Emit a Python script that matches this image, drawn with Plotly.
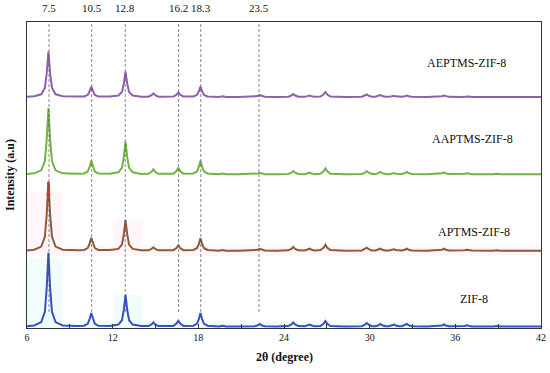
import plotly.graph_objects as go

# Shared 2-theta grid (degrees)
two_theta = [
    6.0, 6.5, 7.0, 7.25, 7.38, 7.5, 7.62, 7.75, 8.0, 8.5, 9.5,
    10.0, 10.25, 10.38, 10.5, 10.62, 10.75, 11.0, 11.8,
    12.4, 12.65, 12.78, 12.9, 13.02, 13.15, 13.4, 14.0,
    14.5, 14.72, 14.85, 14.98, 15.2,
    16.25, 16.47, 16.6, 16.73, 16.95,
    17.65, 17.9, 18.03, 18.15, 18.27, 18.4, 18.65, 19.1,
    19.45, 19.7, 19.95,
    20.8,
    21.95, 22.17, 22.3, 22.43, 22.65,
    23.5,
    24.3, 24.52, 24.65, 24.78, 25.0,
    25.45, 25.67, 25.8, 25.93, 26.15,
    26.55, 26.77, 26.9, 27.03, 27.25,
    28.3,
    29.45, 29.67, 29.8, 29.93, 30.15,
    30.4, 30.62, 30.75, 30.88, 31.1,
    31.35, 31.57, 31.7, 31.83, 32.05,
    32.25, 32.47, 32.6, 32.73, 32.95,
    34.0,
    34.85, 35.07, 35.2, 35.33, 35.55,
    36.45, 36.67, 36.8, 36.93, 37.15,
    38.65, 38.9, 39.15,
    40.5, 42.0,
]

zif8 = [
    0.3, 1.1, 4.4, 14.7, 38.3, 73.7, 38.3, 14.7, 4.4, 1.1, 0.5,
    0.8, 2.7, 7.0, 13.4, 7.0, 2.7, 0.8, 0.6,
    1.9, 6.3, 16.5, 31.7, 16.5, 6.3, 1.9, 0.4,
    0.4, 2.0, 4.0, 2.0, 0.4,
    0.6, 2.9, 5.7, 2.9, 0.6,
    0.8, 2.7, 7.0, 13.4, 7.0, 2.7, 0.8, 0.2,
    0, 0.8, 0,
    0,
    0.25, 1.25, 2.5, 1.25, 0.25,
    0,
    0.4, 2.0, 4.0, 2.0, 0.4,
    0.2, 1.0, 2.0, 1.0, 0.2,
    0.55, 2.75, 5.5, 2.75, 0.55,
    0,
    0.35, 1.75, 3.5, 1.75, 0.35,
    0.25, 1.25, 2.5, 1.25, 0.25,
    0.2, 1.0, 2.0, 1.0, 0.2,
    0.25, 1.25, 2.5, 1.25, 0.25,
    0,
    0.2, 1.0, 2.0, 1.0, 0.2,
    0.12, 0.6, 1.2, 0.6, 0.12,
    0, 0.5, 0,
    0, 0,
]

aptms_zif8 = [
    0.3, 1.0, 4.1, 13.8, 35.9, 69.0, 35.9, 13.8, 4.1, 1.0, 0.5,
    0.8, 2.6, 6.8, 13.0, 6.8, 2.6, 0.8, 0.6,
    1.8, 6.1, 16.0, 30.7, 16.0, 6.1, 1.8, 0.4,
    0.34, 1.7, 3.4, 1.7, 0.34,
    0.54, 2.7, 5.4, 2.7, 0.54,
    0.7, 2.5, 6.4, 12.4, 6.4, 2.5, 0.7, 0.2,
    0, 0.8, 0,
    0,
    0.18, 0.9, 1.8, 0.9, 0.18,
    0,
    0.37, 1.85, 3.7, 1.85, 0.37,
    0.2, 1.0, 2.0, 1.0, 0.2,
    0.6, 3.0, 6.0, 3.0, 0.6,
    0,
    0.3, 1.5, 3.0, 1.5, 0.3,
    0.2, 1.0, 2.0, 1.0, 0.2,
    0.13, 0.65, 1.3, 0.65, 0.13,
    0.2, 1.0, 2.0, 1.0, 0.2,
    0,
    0.2, 1.0, 2.0, 1.0, 0.2,
    0.1, 0.5, 1.0, 0.5, 0.1,
    0, 0.5, 0,
    0, 0,
]

aaptms_zif8 = [
    0.3, 1.0, 4.0, 13.3, 34.5, 66.3, 34.5, 13.3, 4.0, 1.0, 0.5,
    0.8, 2.7, 7.1, 13.6, 7.1, 2.7, 0.8, 0.6,
    2.0, 6.5, 17.0, 32.6, 17.0, 6.5, 2.0, 0.4,
    0.5, 2.5, 5.0, 2.5, 0.5,
    0.66, 3.3, 6.6, 3.3, 0.66,
    0.8, 2.7, 7.1, 13.6, 7.1, 2.7, 0.8, 0.2,
    0, 0.8, 0,
    0,
    0.15, 0.75, 1.5, 0.75, 0.15,
    0,
    0.33, 1.65, 3.3, 1.65, 0.33,
    0.17, 0.85, 1.7, 0.85, 0.17,
    0.6, 3.0, 6.0, 3.0, 0.6,
    0,
    0.33, 1.65, 3.3, 1.65, 0.33,
    0.23, 1.15, 2.3, 1.15, 0.23,
    0.13, 0.65, 1.3, 0.65, 0.13,
    0.23, 1.15, 2.3, 1.15, 0.23,
    0,
    0.2, 1.0, 2.0, 1.0, 0.2,
    0.1, 0.5, 1.0, 0.5, 0.1,
    0, 0.5, 0,
    0, 0,
]

aeptms_zif8 = [
    0.2, 0.7, 2.7, 9.1, 23.6, 45.3, 23.6, 9.1, 2.7, 0.7, 0.4,
    0.6, 2.1, 5.4, 10.3, 5.4, 2.1, 0.6, 0.5,
    1.5, 5.1, 13.2, 25.3, 13.2, 5.1, 1.5, 0.3,
    0.37, 1.85, 3.7, 1.85, 0.37,
    0.47, 2.35, 4.7, 2.35, 0.47,
    0.6, 2.1, 5.4, 10.3, 5.4, 2.1, 0.6, 0.2,
    0, 0.8, 0,
    0,
    0.18, 0.9, 1.8, 0.9, 0.18,
    0,
    0.3, 1.5, 3.0, 1.5, 0.3,
    0.15, 0.75, 1.5, 0.75, 0.15,
    0.5, 2.5, 5.0, 2.5, 0.5,
    0,
    0.25, 1.25, 2.5, 1.25, 0.25,
    0.2, 1.0, 2.0, 1.0, 0.2,
    0.13, 0.65, 1.3, 0.65, 0.13,
    0.15, 0.75, 1.5, 0.75, 0.15,
    0,
    0.15, 0.75, 1.5, 0.75, 0.15,
    0.1, 0.5, 1.0, 0.5, 0.1,
    0, 0.5, 0,
    0, 0,
]

# red tip visible on top of the APTMS-ZIF-8 main peak
red_tip_x = [7.45, 7.5, 7.55]
red_tip_y = [55.0, 69.0, 55.0]

series_names = ["ZIF-8", "APTMS-ZIF-8", "AAPTMS-ZIF-8", "AEPTMS-ZIF-8"]
series_values = [zif8, aptms_zif8, aaptms_zif8, aeptms_zif8]
series_offsets = [1.5, 77.3, 153.7, 231.0]
series_colors = ["#3a4fc2", "#8f5a3a", "#73b244", "#9160ad"]
label_x = [37.3, 37.3, 37.2, 36.8]
label_y = [28.7, 96.3, 188.7, 265.3]

ref_positions = [7.54, 10.53, 12.88, 16.62, 18.17, 22.25]
ref_labels = ["7.5", "10.5", "12.8", "16.2", "18.3", "23.5"]

x_ticks = [6, 12, 18, 24, 30, 36, 42]

serif = "Liberation Serif, Times New Roman, serif"

fig = go.Figure()

# very faint background shading seen in the source image
shading = [
    ("#f1fcfd", 6.0, 42.0, -2, 7),
    ("#f1fcfd", 6.0, 8.5, 0, 70),
    ("#f1fcfd", 12.1, 14.1, 0, 33),
    ("#fef6f9", 6.0, 42.0, 72, 83),
    ("#fef6f9", 6.0, 8.5, 72, 136),
    ("#fef6f9", 12.1, 14.1, 72, 108),
]
for col, xa, xb, ya, yb in shading:
    fig.add_shape(type="rect", xref="x", yref="y", x0=xa, x1=xb, y0=ya, y1=yb,
                  fillcolor=col, line_width=0, layer="below")

for pos in ref_positions:
    fig.add_shape(type="line", xref="x", yref="y", x0=pos, x1=pos, y0=16, y1=306,
                  line=dict(color="#555555", width=0.7, dash="3px,2px"), layer="above")

for name, vals, off, col in zip(series_names, series_values, series_offsets, series_colors):
    fig.add_trace(go.Scatter(x=two_theta, y=[v + off for v in vals], mode="lines",
                             name=name, line=dict(color=col, width=2)))

fig.add_trace(go.Scatter(x=red_tip_x, y=[v + series_offsets[1] for v in red_tip_y],
                         mode="lines", line=dict(color="#e0302a", width=2.2),
                         showlegend=False))

for name, lx, ly in zip(series_names, label_x, label_y):
    fig.add_annotation(x=lx, y=ly, xref="x", yref="y", text=name, showarrow=False,
                       font=dict(family=serif, size=12, color="#111111"))

for pos, lab in zip(ref_positions, ref_labels):
    fig.add_annotation(x=pos, y=1.046, xref="x", yref="paper", text=lab, showarrow=False,
                       yanchor="middle", font=dict(family=serif, size=11, color="#111111"))

fig.add_annotation(x=-0.033, y=0.5, xref="paper", yref="paper", text="<b>Intensity (a.u)</b>",
                   textangle=-90, showarrow=False, xanchor="center", yanchor="middle",
                   font=dict(family=serif, size=12, color="#111111"))
fig.add_annotation(x=0.5, y=-0.095, xref="paper", yref="paper", text="<b>2θ (degree)</b>",
                   showarrow=False, xanchor="center", yanchor="middle",
                   font=dict(family=serif, size=12, color="#111111"))

fig.update_layout(
    width=550, height=373,
    margin=dict(l=27, r=9, t=22, b=45, autoexpand=False),
    paper_bgcolor="white", plot_bgcolor="white",
    showlegend=False,
)
fig.update_xaxes(range=[6, 42], tickvals=x_ticks, ticks="inside", ticklen=4,
                 tickcolor="#333333", showline=True, linecolor="#333333", linewidth=1.3,
                 mirror=True, showgrid=False, zeroline=False, automargin=False,
                 tickfont=dict(family=serif, size=10, color="#111111"),
                 minor=dict(dtick=3, ticks="inside", ticklen=4, tickcolor="#333333"))
fig.update_yaxes(range=[0, 306], showticklabels=False, ticks="", showline=True,
                 linecolor="#333333", linewidth=1.3, mirror=True, showgrid=False,
                 zeroline=False, automargin=False)

fig.write_html("out.html", config={"displayModeBar": False},
               post_script="document.body.style.margin='0';document.body.style.padding='0';")
